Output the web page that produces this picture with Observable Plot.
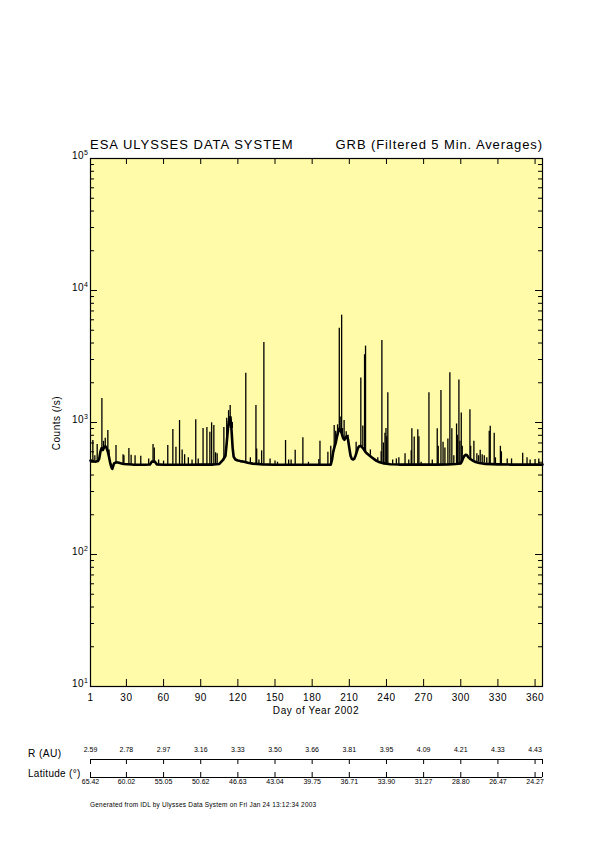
<!DOCTYPE html>
<html><head><meta charset="utf-8">
<script src="https://cdn.jsdelivr.net/npm/d3@7"></script>
<script src="https://cdn.jsdelivr.net/npm/@observablehq/plot@0.6"></script>
<style>
body{margin:0;background:#fff;}
#page{position:relative;width:595px;height:842px;overflow:hidden;font-family:"Liberation Sans",Arial,sans-serif;color:#000;background:#fff;}
.t{position:absolute;white-space:nowrap;line-height:1;}
#page svg{position:absolute;left:0;}
</style></head><body><div id="page">
<div class="t" style="left:90px;top:138.3px;font-size:13px;letter-spacing:1px;">ESA ULYSSES DATA SYSTEM</div>
<div class="t" style="right:52px;top:138.3px;font-size:13px;letter-spacing:0.9px;">GRB (Filtered 5 Min. Averages)</div>
<div class="t" style="left:57px;top:423px;font-size:10px;letter-spacing:0.5px;transform:translate(-50%,-50%) rotate(-90deg);">Counts (/s)</div>
<div class="t" style="left:316px;top:705.5px;font-size:10px;letter-spacing:0.6px;transform:translateX(-50%);">Day of Year 2002</div>
<div class="t" style="left:28px;top:749.4px;font-size:10.2px;letter-spacing:0.4px;">R (AU)</div>
<div class="t" style="left:28px;top:768.5px;font-size:10px;letter-spacing:0.3px;">Latitude (°)</div>
<div class="t" style="left:90px;top:801.5px;font-size:6.5px;letter-spacing:0.2px;">Generated from IDL by Ulysses Data System on Fri Jan 24 13:12:34 2003</div>
</div>
<script>
// ---- tick positions and labels ----
const xTicks = [1, 30, 60, 90, 120, 150, 180, 210, 240, 270, 300, 330, 360];
const lowTicks = [1, 30, 60, 90, 120, 150, 180, 210, 240, 270, 300, 330, 360, 366];
const yMajor = [10, 100, 1000, 10000, 100000];
const yMinor = [20,30,40,50,60,70,80,90,200,300,400,500,600,700,800,900,
  2000,3000,4000,5000,6000,7000,8000,9000,20000,30000,40000,50000,60000,70000,80000,90000];
const rLabels = ["2.59","2.78","2.97","3.16","3.33","3.50","3.66","3.81","3.95","4.09","4.21","4.33","4.43"];
const latLabels = ["65.42","60.02","55.05","50.62","46.63","43.04","39.75","36.71","33.90","31.27","28.80","26.47","24.27"];

// ---- background count level (day of year, counts/s) ----
const baseDays = [1,3,5,7,8,9,10,11,12,13,14,15,16,17,18,18.6,19.3,20,22,24,26,28,31,35,40,45,49,50.5,53,54.5,
  60,70,80,90,100,105,108,110,111,112,113,114,114.8,115.8,116.6,118,120,122,125,128,132,140,150,160,170,180,190,
  195,196,197,198,199,200,201,202,203,204,205,206,207,208,209,210,211,212,213,214,215,216,217,218,219,220,221,222,
  223,224,226,228,230,232,234,236,238,240,243,250,260,270,280,290,296,300,301,302,303,304,305,306,308,310,312,315,
  320,330,340,350,360,366];
const baseCounts = [515,510,505,510,530,600,640,620,650,660,640,600,545,490,455,445,468,490,500,495,490,485,483,480,478,478,480,505,505,482,
  478,478,478,480,480,485,520,560,700,900,1050,1100,900,640,550,525,515,510,505,495,488,482,478,478,478,478,478,
  480,520,600,650,700,780,850,900,870,820,760,740,770,790,740,640,560,530,525,530,560,600,640,660,665,655,640,620,
  600,585,565,545,528,512,502,495,490,487,483,480,480,480,480,482,485,490,510,540,560,570,565,548,527,512,502,493,
  486,482,480,480,480,480];

// ---- short bursts (day of year, peak counts/s) ----
const spikeDays = [2.9,4.5,6.4,10.2,11.5,12.9,15.0,16.0,21.6,27.3,
  28.0,32.0,33.8,37.0,41.6,48.0,51.5,52.5,56.0,60.0,
  63.4,67.5,70.0,72.9,75.0,77.0,80.0,83.0,86.0,88.0,
  91.9,95.0,97.4,98.8,100.6,102.0,103.3,108.7,111.0,112.5,
  113.8,115.5,126.4,130.1,134.6,135.2,137.0,139.2,141.0,146.0,
  150.0,152.0,158.5,161.0,163.0,166.3,172.5,177.0,185.4,186.3,
  192.7,195.0,197.8,199.0,200.5,201.9,202.6,203.8,204.5,205.8,
  207.5,209.0,215.5,219.3,220.9,222.3,223.1,227.0,233.0,235.7,
  236.3,237.5,238.8,239.6,240.2,241.1,245.0,248.0,250.0,255.0,
  258.0,260.0,260.5,262.4,265.3,266.2,268.0,274.3,277.0,281.0,
  281.8,284.0,285.7,287.2,289.6,291.2,292.8,294.4,296.6,297.3,
  298.5,299.3,300.4,301.2,307.4,308.0,310.6,313.0,314.4,315.7,
  317.3,319.0,321.0,323.0,323.8,327.0,328.0,332.0,332.8,337.5,
  341.0,350.0,353.5,356.0,360.0,363.0];
const spikePeaks = [730,560,680,1520,720,760,870,620,670,570,
  560,635,565,560,555,530,680,640,520,510,
  670,885,650,1035,620,570,540,520,1050,530,
  900,915,845,995,950,590,580,915,1075,1230,
  1345,1000,2360,540,1345,630,520,610,4030,530,
  510,500,730,520,520,615,765,500,525,720,
  595,660,950,860,960,5180,1100,6500,900,1035,
  850,800,710,2170,940,3260,3790,620,540,600,
  4180,700,830,900,780,1680,520,530,540,580,
  520,610,895,775,880,780,500,1680,520,895,
  660,1750,710,640,750,2380,895,560,975,800,
  2100,720,1180,660,1250,660,720,580,560,615,
  570,560,540,860,935,830,540,660,600,530,
  530,585,540,520,525,530];

const series = baseDays.map((d, i) => ({day: d, counts: baseCounts[i]}));
// each burst rises from the background level read at the nearest earlier background sample
const floorAt = d => baseCounts[Math.max(0, d3.bisectRight(baseDays, d) - 1)];
const spikes = spikeDays.map((d, i) => ({day: d, peak: spikePeaks[i], floor: Math.min(floorAt(d), spikePeaks[i])}));

const W = 595, H = 730, mT = 158, mB = 44, mL = 90, mR = 53;
const pH = H - mT - mB, pW = W - mL - mR;
const font = '"Liberation Sans", Arial, sans-serif';

const main = Plot.plot({
  width: W, height: H, marginTop: mT, marginBottom: mB, marginLeft: mL, marginRight: mR,
  style: {fontFamily: font, fontSize: "10px", background: "transparent", color: "#000", overflow: "visible", letterSpacing: "0.5px"},
  x: {domain: [1, 366]},
  y: {type: "log", domain: [10, 100000]},
  marks: [
    Plot.frame({fill: "#fffba8", stroke: null}),
    Plot.line(series, {x: "day", y: "counts", stroke: "#000", strokeWidth: 2.6}),
    Plot.ruleX(spikes, {x: "day", y1: "floor", y2: "peak", stroke: "#000", strokeWidth: 1.3}),
    Plot.tickX(xTicks, {x: d => d, insetBottom: pH - 6, stroke: "#000"}),
    Plot.tickX(xTicks, {x: d => d, insetTop: pH - 7, stroke: "#000"}),
    Plot.tickY(yMajor, {y: d => d, insetRight: pW - 7, stroke: "#000"}),
    Plot.tickY(yMajor, {y: d => d, insetLeft: pW - 7, stroke: "#000"}),
    Plot.tickY(yMinor, {y: d => d, insetRight: pW - 4, stroke: "#000"}),
    Plot.tickY(yMinor, {y: d => d, insetLeft: pW - 4, stroke: "#000"}),
    Plot.frame({stroke: "#000", strokeWidth: 1.2}),
    Plot.axisX({ticks: xTicks, tickSize: 0, tickPadding: 7, tickFormat: d => String(d), label: null, fontSize: 10}),
    Plot.axisY({ticks: yMajor, tickSize: 0, tickPadding: 2, tickFormat: d => String(Math.round(Math.log10(d))), label: null, dy: -3, fontSize: 10})
  ]
});
main.style.top = "0px";
d3.select(main).selectAll('g[aria-label="y-axis tick label"] text').each(function () {
  const e = this.textContent;
  this.textContent = "10";
  d3.select(this).append("tspan").attr("dy", "-0.5em").attr("font-size", "7px").text(e);
});
document.getElementById("page").appendChild(main);

const low = Plot.plot({
  width: W, height: 70, marginTop: 29, marginBottom: 23, marginLeft: mL, marginRight: mR,
  style: {fontFamily: font, fontSize: "7px", background: "transparent", color: "#000", overflow: "visible"},
  x: {domain: [1, 366], axis: null},
  y: {domain: [0, 1], axis: null},
  marks: [
    Plot.ruleY([0, 1], {stroke: "#000"}),
    Plot.tickX(lowTicks, {x: d => d, insetBottom: 13, stroke: "#000"}),
    Plot.tickX(lowTicks, {x: d => d, insetTop: 13, stroke: "#000"}),
    Plot.text(xTicks, {x: d => d, text: (d, i) => rLabels[i], frameAnchor: "top", dy: -12.2, fontSize: 7}),
    Plot.text(xTicks, {x: d => d, text: (d, i) => latLabels[i], frameAnchor: "bottom", dy: 6.3, fontSize: 7})
  ]
});
low.style.top = "730px";
document.getElementById("page").appendChild(low);
</script>
</body></html>
